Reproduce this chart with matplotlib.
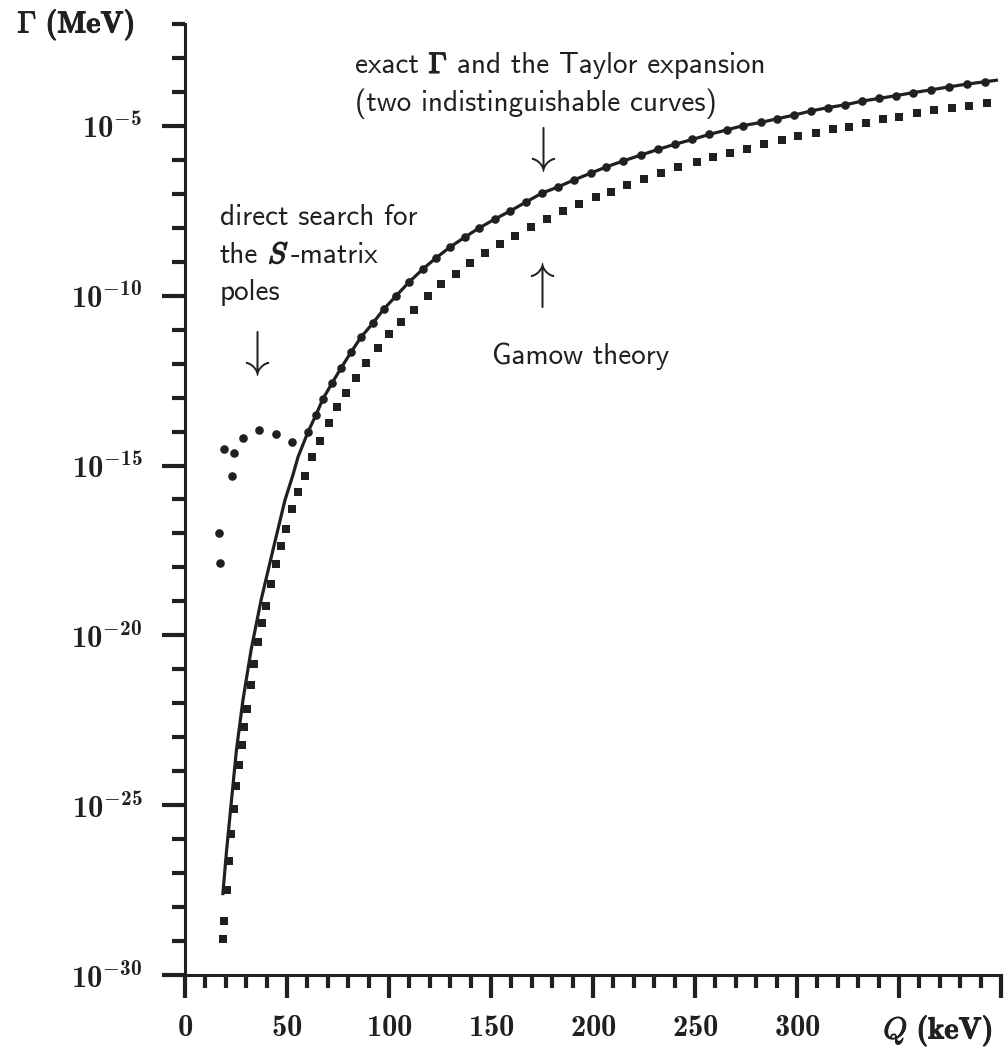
import numpy as np
import matplotlib
matplotlib.use("Agg")
import matplotlib.pyplot as plt
import matplotlib.patheffects as pe
from matplotlib.ticker import FixedLocator, FixedFormatter, NullFormatter

# Computer Modern look: bold digits from cmb10, sans text from cmss10
plt.rcParams['mathtext.fontset'] = 'custom'
plt.rcParams['mathtext.rm'] = 'cmr10'
plt.rcParams['mathtext.bf'] = 'cmb10'
plt.rcParams['mathtext.it'] = 'cmmi10'
plt.rcParams['mathtext.sf'] = 'cmss10'
plt.rcParams['mathtext.fallback'] = 'cm'
plt.rcParams['axes.unicode_minus'] = False

INK = '#231f20'

# exact Gamma (solid line), Q in keV, log10(Gamma / MeV)
q_exact = [18.5, 20.4, 22.8, 25.2, 28.4, 32.4, 37.3, 43.1, 49.0, 52.9, 55.4, 60.3, 64.2,
           67.6, 72.1, 76.5, 81.4, 86.3, 92.2, 97.5, 103.4, 109.8, 116.7, 123.0, 129.9,
           137.3, 144.1, 152.0, 159.3, 167.2, 175.0, 182.8, 190.7, 199.0, 206.4, 214.9,
           223.4, 232.0, 240.2, 248.7, 257.0, 265.5, 273.7, 282.2, 290.3, 298.7, 306.9,
           315.3, 323.5, 332.0, 340.3, 348.5, 357.0, 365.7, 374.7, 383.2, 392.2, 398.5]
lg_exact = [-27.65, -26.32, -24.85, -23.38, -21.91, -20.43, -18.96, -17.49, -16.02, -15.28,
            -14.75, -14.01, -13.51, -13.04, -12.57, -12.13, -11.66, -11.22, -10.80, -10.39,
            -10.01, -9.60, -9.21, -8.89, -8.57, -8.27, -8.01, -7.74, -7.51, -7.24, -6.98,
            -6.80, -6.59, -6.39, -6.21, -6.03, -5.86, -5.69, -5.54, -5.40, -5.25, -5.12,
            -4.99, -4.90, -4.79, -4.68, -4.56, -4.46, -4.38, -4.27, -4.19, -4.11, -4.02,
            -3.94, -3.85, -3.77, -3.70, -3.65]

# direct search for the S-matrix poles (dots)
q_smatrix = [16.7, 17.2, 19.1, 23.0, 24.0, 28.4, 36.3, 44.6, 52.5, 60.3, 64.2, 67.6, 72.1,
             76.5, 81.4, 86.3, 92.2, 97.5, 103.4, 109.8, 116.7, 123.0, 129.9, 137.3, 144.1,
             152.0, 159.3, 167.2, 175.0, 182.8, 190.7, 199.0, 206.4, 214.9, 223.4, 232.0,
             240.2, 248.7, 257.0, 265.5, 273.7, 282.2, 290.3, 298.7, 306.9, 315.3, 323.5,
             332.0, 340.3, 348.5, 357.0, 365.7, 374.7, 383.2, 392.2]
lg_smatrix = [-16.99, -17.87, -14.51, -15.31, -14.63, -14.19, -13.96, -14.07, -14.31, -14.01,
              -13.51, -13.04, -12.57, -12.13, -11.66, -11.22, -10.80, -10.39, -10.01, -9.60,
              -9.21, -8.89, -8.57, -8.27, -8.01, -7.74, -7.51, -7.24, -6.98, -6.80, -6.59,
              -6.39, -6.21, -6.03, -5.86, -5.69, -5.54, -5.40, -5.25, -5.12, -4.99, -4.90,
              -4.79, -4.68, -4.56, -4.46, -4.38, -4.27, -4.19, -4.11, -4.02, -3.94, -3.85,
              -3.77, -3.70]

# Gamow theory (squares)
q_gamow = [18.8, 19.1, 20.6, 21.6, 22.7, 24.0, 25.1, 26.6, 27.8, 28.9, 30.5, 32.5, 33.8,
           35.9, 37.9, 39.9, 42.3, 44.8, 47.2, 49.7, 52.6, 55.5, 59.0, 62.4, 66.3, 70.7,
           74.7, 79.1, 84.0, 88.9, 94.8, 100.1, 106.0, 112.4, 119.0, 125.6, 132.7, 139.9,
           147.2, 154.6, 161.9, 169.8, 177.5, 185.4, 193.3, 201.3, 208.8, 216.8, 225.1,
           233.3, 241.8, 250.8, 259.0, 267.2, 275.6, 283.8, 292.5, 300.6, 309.2, 317.5,
           325.6, 333.7, 342.0, 350.1, 358.7, 367.3, 375.8, 384.5, 393.3]
lg_gamow = [-28.95, -28.41, -27.50, -26.65, -25.86, -25.12, -24.44, -23.83, -23.24, -22.71,
            -22.18, -21.46, -20.83, -20.21, -19.65, -19.14, -18.50, -17.90, -17.37, -16.88,
            -16.29, -15.79, -15.30, -14.76, -14.29, -13.76, -13.29, -12.85, -12.42, -11.99,
            -11.55, -11.13, -10.77, -10.42, -10.01, -9.66, -9.37, -9.05, -8.75, -8.49, -8.23,
            -7.97, -7.73, -7.51, -7.30, -7.10, -6.94, -6.74, -6.57, -6.40, -6.22, -6.07,
            -5.92, -5.81, -5.68, -5.54, -5.42, -5.30, -5.21, -5.10, -5.02, -4.92, -4.81,
            -4.73, -4.63, -4.53, -4.47, -4.40, -4.32]

x_major = [0, 50, 100, 150, 200, 250, 300, 350, 400]
x_labels = ['0', '50', '100', '150', '200', '250', '300', '', '']
y_major_exp = [-30, -25, -20, -15, -10, -5]

W, H = 1007, 1055
fig = plt.figure(figsize=(W / 100, H / 100), dpi=100)
ax = fig.add_axes([185 / W, 1 - 975 / H, 816 / W, 951 / H])


def px(x, y):
    # pixel position -> figure fraction
    return x / W, 1 - y / H


ax.plot(q_exact, 10.0 ** np.array(lg_exact), color=INK, lw=2.3, solid_capstyle='butt', zorder=3)
ax.plot(q_smatrix, 10.0 ** np.array(lg_smatrix), 'o', color=INK, ms=6.2, mew=0, zorder=4)
ax.plot(q_gamow, 10.0 ** np.array(lg_gamow), 's', color=INK, ms=6.0, mew=0, zorder=4)

ax.set_yscale('log')
ax.set_xlim(0, 400)
ax.set_ylim(1e-30, 1e-2)

ax.xaxis.set_major_locator(FixedLocator(x_major))
ax.xaxis.set_major_formatter(FixedFormatter([r'$\mathbf{%s}$' % s if s else '' for s in x_labels]))
ax.xaxis.set_minor_locator(FixedLocator(np.arange(0, 401, 10)))
ax.yaxis.set_major_locator(FixedLocator([10.0 ** e for e in y_major_exp]))
ax.yaxis.set_major_formatter(FixedFormatter([r'$\mathbf{10^{%d}}$' % e for e in y_major_exp]))
ax.yaxis.set_minor_locator(FixedLocator([10.0 ** e for e in range(-30, -1)]))
ax.yaxis.set_minor_formatter(NullFormatter())

for s in ['top', 'right']:
    ax.spines[s].set_visible(False)
for s in ['left', 'bottom']:
    ax.spines[s].set_linewidth(2.2)
    ax.spines[s].set_color(INK)

ax.tick_params(which='major', direction='out', length=16.5, width=3, color=INK, labelsize=22, labelcolor=INK)
ax.tick_params(which='minor', direction='out', length=9.5, width=3, color=INK)
ax.tick_params(axis='y', which='major', pad=14)
ax.tick_params(axis='x', which='major', pad=11)

bold = [pe.withStroke(linewidth=0.7, foreground=INK)]
heavy = [pe.withStroke(linewidth=1.1, foreground=INK)]

# axis titles
fig.text(*px(76, 25), r'$\mathbf{\Gamma\ (MeV)}$', fontsize=22, ha='center', va='center',
         color=INK, path_effects=bold)
fig.text(*px(938, 1031), r'$\mathit{Q}\ \mathbf{(keV)}$', fontsize=22, ha='center', va='center',
         color=INK, path_effects=bold)

# annotations
sans = dict(family='cmss10', fontsize=21, color=INK, ha='left', va='baseline')
renderer = fig.canvas.get_renderer()


def width(s):
    t = fig.text(0, 0, s, **sans)
    w = t.get_window_extent(renderer=renderer).width
    t.remove()
    return w


space = width('a a') - width('aa')


def run(x, y, pieces):
    # pieces: (text, emphasised) drawn one after another, separated by given gaps
    for s, strong, gap in pieces:
        t = fig.text(*px(x, y), s, path_effects=heavy if strong else None, **sans)
        x += t.get_window_extent(renderer=renderer).width + gap


run(355, 73, [('exact', False, space), (r'$\mathbf{\Gamma}$', True, space),
              ('and the Taylor expansion', False, 0)])
fig.text(*px(355, 111), '(two indistinguishable curves)', **sans)
fig.text(*px(220, 225), 'direct search for', **sans)
run(220, 263, [('the', False, space), (r'$\mathit{S}$', True, 1.5), ('-matrix', False, 0)])
fig.text(*px(220, 300), 'poles', **sans)
fig.text(*px(492, 364), 'Gamow theory', **sans)

arrow = dict(fontsize=36, color=INK, ha='center', va='center')
fig.text(*px(253, 353), r'$\downarrow$', **arrow)
fig.text(*px(539, 149), r'$\downarrow$', **arrow)
fig.text(*px(538, 285), r'$\uparrow$', **arrow)

fig.savefig('out.png', dpi=100)
